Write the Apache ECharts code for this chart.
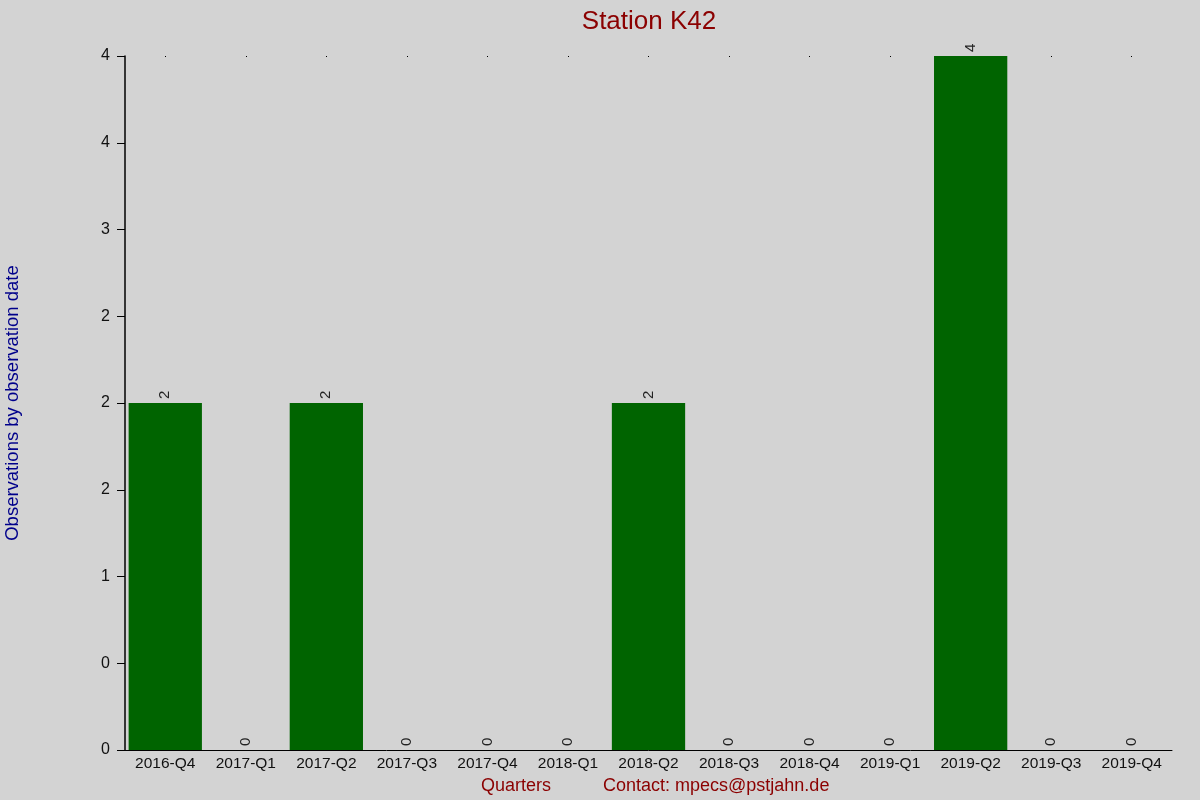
<!DOCTYPE html>
<html><head><meta charset="utf-8">
<script src="https://cdn.jsdelivr.net/npm/echarts@6/dist/echarts.min.js"></script>
<style>html,body{margin:0;padding:0;background:#d3d3d3;}#c{width:1200px;height:800px;}</style>
</head><body><div id="c"></div>
<script>
var categories = ["2016-Q4","2017-Q1","2017-Q2","2017-Q3","2017-Q4","2018-Q1","2018-Q2","2018-Q3","2018-Q4","2019-Q1","2019-Q2","2019-Q3","2019-Q4"];
var observations = [2,0,2,0,0,0,2,0,0,0,4,0,0];
var yTickLabels = ["0","0","1","2","2","2","3","4","4"];
var titleText = "Station K42";
var yName = "Observations by observation date";
var xName = "Quarters";
var contactText = "Contact: mpecs@pstjahn.de";

var chart = echarts.init(document.getElementById('c'));
var font = 'Liberation Sans, Arial, sans-serif';
chart.setOption({
  backgroundColor: '#d3d3d3',
  animation: false,
  title: {text: titleText, left: 644, top: 4, textAlign: 'center',
    textStyle: {color: '#8b0000', fontSize: 26, fontWeight: 'normal', fontFamily: font}},
  grid: {left: 125, right: 28, top: 56, bottom: 50, containLabel: false, outerBoundsMode: 'none'},
  xAxis: [{
    type: 'category', data: categories,
    axisLine: {lineStyle: {color: '#000', width: 1}},
    axisTick: {show: false},
    axisLabel: {color: '#111', fontSize: 15.5, fontFamily: font, margin: 6, interval: 0}
  },{
    type: 'category', data: categories, position: 'top',
    axisLine: {show: false},
    axisTick: {show: true, alignWithLabel: true, length: 1, inside: true, lineStyle: {color: '#000'}},
    axisLabel: {show: false}
  }],
  yAxis: {
    type: 'value', min: 0, max: 4, interval: 0.5,
    name: yName, nameLocation: 'middle', nameGap: 103,
    nameTextStyle: {color: '#00008b', fontSize: 18.5, fontFamily: font},
    axisLine: {show: true, lineStyle: {color: '#000', width: 1.5}},
    axisTick: {show: true, length: 8, lineStyle: {color: '#000'}},
    splitLine: {show: false},
    axisLabel: {color: '#111', fontSize: 16, fontFamily: font, margin: 15,
      formatter: function (v) { return yTickLabels[Math.round(v / 0.5)]; }}
  },
  series: [{
    type: 'bar', data: observations, barCategoryGap: '9%',
    itemStyle: {color: '#006400'},
    label: {show: true, position: 'top', rotate: 90, align: 'left', verticalAlign: 'middle',
      distance: 4, color: '#222', fontSize: 15, fontFamily: font}
  }],
  graphic: [
    {type: 'text', left: 481, top: 777, style: {text: xName, fill: '#8b0000', font: '18px Liberation Sans, Arial, sans-serif'}},
    {type: 'text', left: 603, top: 777, style: {text: contactText, fill: '#8b0000', font: '18px Liberation Sans, Arial, sans-serif'}}
  ]
});
</script></body></html>
